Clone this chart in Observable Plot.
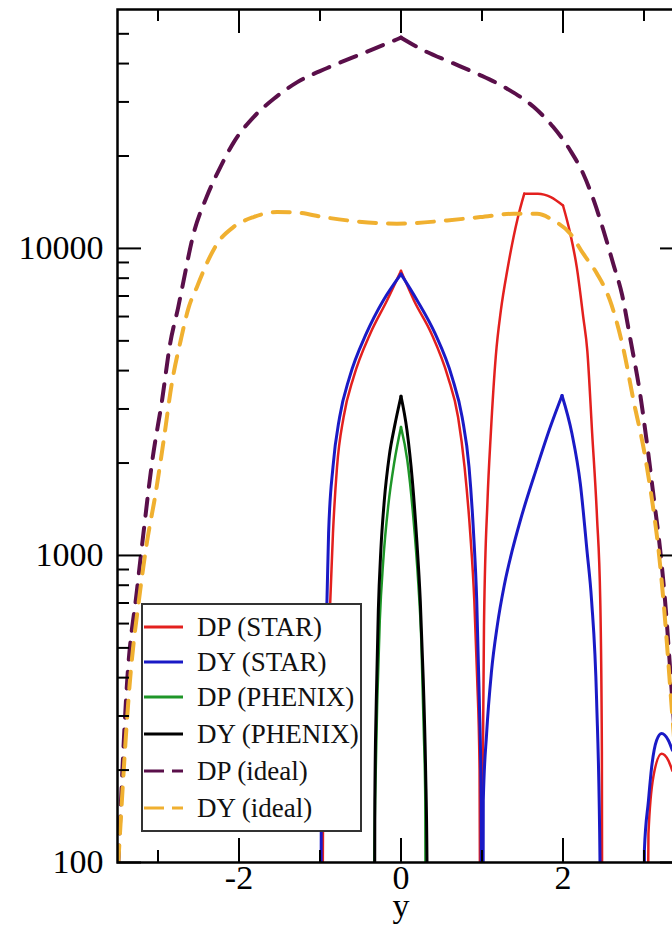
<!DOCTYPE html>
<html><head><meta charset="utf-8">
<script src="https://cdn.jsdelivr.net/npm/d3@7"></script>
<script src="https://cdn.jsdelivr.net/npm/@observablehq/plot@0.6"></script>
<style>
html,body{margin:0;padding:0;background:#fff;overflow:hidden;}
#wrap{position:relative;width:672px;height:936px;overflow:hidden;background:#fff;}
#chart svg{max-width:none !important;}
#legend{position:absolute;left:141px;top:603px;width:217px;height:225px;border:2px solid #333;background:#fff;font-family:"Liberation Serif",serif;font-size:27px;color:#111;}
.row{position:absolute;left:0;height:36px;width:240px;}
.row svg{position:absolute;left:0;top:0;}
.row span{position:absolute;left:54px;top:0;line-height:36px;white-space:nowrap;}
</style></head><body>
<div id="wrap"><div id="chart"></div><div id="legend"></div></div>
<script>
// ---- data: [rapidity y, yield] ----
const dpStar = [[-1.0,1],[-0.96,200],[-0.92,400],[-0.873,713],[-0.84,1180],[-0.79,1940],[-0.709,2820],[-0.585,3810],[-0.379,5285],[-0.173,6770],[0,8450],[0.16,6770],[0.375,5285],[0.58,3810],[0.705,2820],[0.785,1940],[0.855,1180],[0.905,713],[0.94,400],[0.97,200],[1.0,1],[1.01,200],[1.026,630],[1.068,1510],[1.109,2500],[1.171,4480],[1.233,6280],[1.316,8600],[1.44,12520],[1.522,15080],[1.69,15080],[1.85,14700],[2.0,13800],[2.09,11170],[2.17,8690],[2.25,5975],[2.30,4650],[2.36,2500],[2.42,1330],[2.46,713],[2.48,230],[2.495,1],[3.0,1],[3.055,124],[3.115,190],[3.217,226],[3.30,215],[3.35,199]];
const dyStar = [[-1.0,1],[-0.984,159],[-0.959,337],[-0.914,713],[-0.894,1180],[-0.84,1940],[-0.758,2820],[-0.635,3810],[-0.428,5285],[-0.219,6770],[0,8250],[0.20,6770],[0.42,5285],[0.63,3810],[0.755,2820],[0.84,1940],[0.896,1180],[0.935,713],[0.967,337],[0.99,159],[1.0,1],[1.016,159],[1.057,263],[1.116,416],[1.189,592],[1.275,800],[1.374,1040],[1.473,1300],[1.679,1940],[1.843,2620],[1.988,3320],[2.111,2490],[2.214,1712],[2.296,1038],[2.353,713],[2.415,337],[2.457,100],[2.47,1],[3.0,1],[3.005,110],[3.055,159],[3.094,204],[3.156,250],[3.217,263],[3.30,250],[3.35,232]];
const dpPhenix = [[-0.335,1],[-0.33,100],[-0.317,172],[-0.293,337],[-0.262,614],[-0.219,963],[-0.157,1455],[-0.083,2010],[0,2620],[0.078,2040],[0.152,1333],[0.214,809],[0.251,529],[0.281,269],[0.30,159],[0.32,1]];
const dyPhenix = [[-0.338,1],[-0.323,159],[-0.305,337],[-0.28,662],[-0.249,1038],[-0.206,1511],[-0.144,2118],[-0.077,2652],[0,3300],[0.074,2554],[0.14,1755],[0.195,1119],[0.238,713],[0.275,392],[0.304,199],[0.321,100],[0.33,1]];
const dpIdeal = [[-3.49,100],[-3.38,392],[-3.26,769],[-3.18,1180],[-3.07,2040],[-2.95,3200],[-2.85,4900],[-2.75,6440],[-2.70,7480],[-2.56,11190],[-2.40,14700],[-2.23,18400],[-2.05,22480],[-1.82,26780],[-1.57,30730],[-1.28,34800],[-0.91,38700],[-0.46,43300],[0,48570],[0.28,44160],[0.61,40450],[0.94,37070],[1.31,33130],[1.64,28860],[1.88,24850],[2.09,20850],[2.25,17510],[2.38,14330],[2.50,11440],[2.62,8915],[2.73,7050],[2.83,5090],[2.955,3320],[3.04,2280],[3.12,1545],[3.20,1040],[3.26,713],[3.35,337],[3.49,100]];
const dyIdeal = [[-3.49,100],[-3.35,380],[-3.22,769],[-3.14,1090],[-3.03,1590],[-2.93,2370],[-2.83,3625],[-2.72,5015],[-2.62,6440],[-2.52,7480],[-2.40,8915],[-2.27,10360],[-2.07,11730],[-1.82,12650],[-1.53,13130],[-1.28,13080],[-0.96,12650],[-0.54,12240],[-0.05,12040],[0.16,12090],[0.57,12340],[0.98,12650],[1.39,12970],[1.68,12970],[1.88,12340],[2.09,11170],[2.25,9610],[2.42,8270],[2.58,6770],[2.75,4650],[2.87,3200],[3.00,2200],[3.10,1510],[3.18,1040],[3.24,713],[3.35,300],[3.49,100]];

// rapidities where a curve has a corner (cusp) rather than a smooth turn
const dpStarCorners = [0, 1.0, 1.522, 2.0, 2.495, 3.0];
const dyStarCorners = [0, 1.0, 1.988, 2.47, 3.0];
const dpPhenixCorners = [0];
const dyPhenixCorners = [0];
const dpIdealCorners = [0];
const dyIdealCorners = [];

const xMajor = [-2, 0, 2];
const xMinor = [-3, -1, 1, 3];
const yMajor = [100, 1000, 10000];
const yMinor = [200,300,400,500,600,700,800,900,2000,3000,4000,5000,6000,7000,8000,9000,20000,30000,40000,50000];
const xLabel = "y";

const seriesNames = ["DP (STAR)", "DY (STAR)", "DP (PHENIX)", "DY (PHENIX)", "DP (ideal)", "DY (ideal)"];
const seriesColors = ["#e3201e", "#1a1ac6", "#1e9628", "#000000", "#5a0f4a", "#f0b030"];
const seriesDash = [null, null, null, null, "17,12", "17,12"];
const seriesWidth = [2.5, 3, 2.5, 3, 4, 4];
const seriesData = [dpStar, dyStar, dpPhenix, dyPhenix, dpIdeal, dyIdeal];
const seriesCorners = [dpStarCorners, dyStarCorners, dpPhenixCorners, dyPhenixCorners, dpIdealCorners, dyIdealCorners];

// split a series into smooth pieces at its corners
function pieces(data, corners) {
  const rows = [];
  let seg = 0;
  data.forEach((p, i) => {
    rows.push({x: p[0], v: p[1], seg});
    if (i > 0 && i < data.length - 1 && corners.includes(p[0])) {
      seg++;
      rows.push({x: p[0], v: p[1], seg});
    }
  });
  return rows;
}

// ---- layout ----
const W = 700, H = 936;
const mL = 117, mR = 16, mT = 9, mB = 74;
const fw = W - mL - mR, fh = H - mT - mB;
const font = '"Liberation Serif", "Times New Roman", serif';

const lineMarks = seriesData.map((d, i) => Plot.line(pieces(d, seriesCorners[i]), {
  x: "x", y: "v", z: "seg",
  curve: "monotone-x",
  stroke: seriesColors[i], strokeWidth: seriesWidth[i],
  strokeDasharray: seriesDash[i] || undefined,
  strokeLinejoin: "round", clip: true
}));

const tickStyle = {stroke: "black", strokeWidth: 2};
const chart = Plot.plot({
  width: W, height: H,
  marginLeft: mL, marginRight: mR, marginTop: mT, marginBottom: mB,
  style: {fontFamily: font, background: "white", maxWidth: "none"},
  x: {domain: [-3.5, 3.5], axis: null},
  y: {type: "log", domain: [100, 60000], axis: null},
  marks: [
    ...lineMarks,
    Plot.tickX(xMajor, {x: d => d, insetTop: fh - 24, ...tickStyle}),
    Plot.tickX(xMajor, {x: d => d, insetBottom: fh - 24, ...tickStyle}),
    Plot.tickX(xMinor, {x: d => d, insetTop: fh - 12, ...tickStyle}),
    Plot.tickX(xMinor, {x: d => d, insetBottom: fh - 12, ...tickStyle}),
    Plot.tickY(yMajor, {y: d => d, insetRight: fw - 24, ...tickStyle}),
    Plot.tickY(yMajor, {y: d => d, insetLeft: fw - 24, ...tickStyle}),
    Plot.tickY(yMinor, {y: d => d, insetRight: fw - 12, ...tickStyle}),
    Plot.tickY(yMinor, {y: d => d, insetLeft: fw - 12, ...tickStyle}),
    Plot.frame({stroke: "black", strokeWidth: 2.5}),
    Plot.text(yMajor, {y: d => d, text: d => String(d), frameAnchor: "left", textAnchor: "end", dx: -14, fontSize: 34, fill: "black"}),
    Plot.text(xMajor, {x: d => d, text: d => (d < 0 ? "-" + Math.abs(d) : String(d)), frameAnchor: "bottom", dy: 26, fontSize: 34, fill: "black"}),
    Plot.text([0], {x: d => d, text: () => xLabel, frameAnchor: "bottom", dy: 54, fontSize: 34, fill: "black"})
  ]
});
chart.style.maxWidth = "none";
chart.style.width = W + "px";
chart.style.height = H + "px";
document.getElementById("chart").appendChild(chart);

// ---- legend ----
const legend = document.getElementById("legend");
const centers = [22, 57, 92, 129, 166, 203];
seriesNames.forEach((name, i) => {
  const row = document.createElement("div");
  row.className = "row";
  row.style.top = (centers[i] - 18) + "px";
  const dash = seriesDash[i] ? ' stroke-dasharray="20,8"' : "";
  row.innerHTML = `<svg width="42" height="36"><line x1="1" y1="18" x2="40" y2="18" stroke="${seriesColors[i]}" stroke-width="3"${dash}/></svg><span>${name}</span>`;
  legend.appendChild(row);
});
</script>
</body></html>
